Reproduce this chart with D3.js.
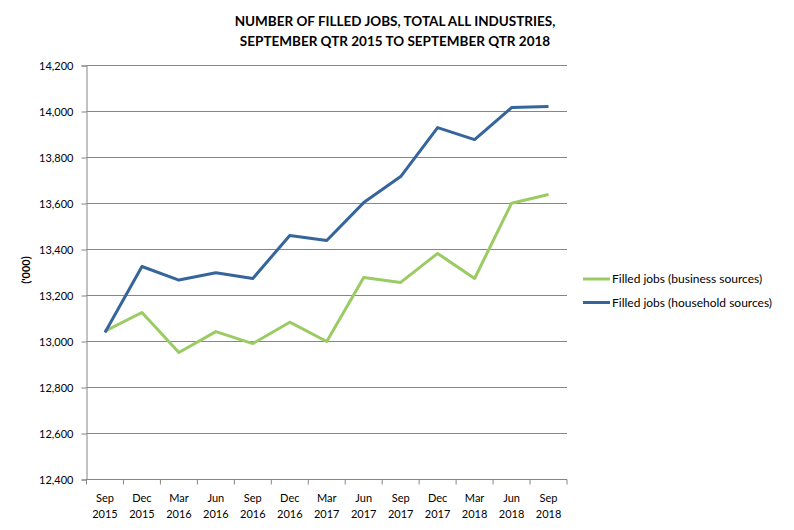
<!DOCTYPE html>
<html>
<head>
<meta charset="utf-8">
<script src="https://cdn.jsdelivr.net/npm/d3@7"></script>
<style>
  body { margin: 0; background: #fff; }
  text { font-family: Lato, 'Open Sans', sans-serif; fill: #000; }
</style>
</head>
<body>
<div class="container"></div>
<script>
const quarters = ['Sep 2015', 'Dec 2015', 'Mar 2016', 'Jun 2016', 'Sep 2016', 'Dec 2016', 'Mar 2017',
  'Jun 2017', 'Sep 2017', 'Dec 2017', 'Mar 2018', 'Jun 2018', 'Sep 2018'];
const businessJobs = [13045, 13126, 12952, 13043, 12991, 13084, 13000, 13278, 13257, 13383, 13274, 13601, 13639];
const householdJobs = [13039, 13326, 13267, 13299, 13274, 13461, 13439, 13604, 13717, 13930, 13878, 14017, 14022];
const yTicks = [12400, 12600, 12800, 13000, 13200, 13400, 13600, 13800, 14000, 14200];
const seriesNames = ['Filled jobs (business sources)', 'Filled jobs (household sources)'];

const w = 794;
const h = 530;
const plotLeft = 86.5;
const plotRight = 567;
const plotTop = 65.5;
const plotBottom = 479.5;

const svg = d3.select('.container').append('svg').attr('width', w).attr('height', h);

const titleLines = ['NUMBER OF FILLED JOBS, TOTAL ALL INDUSTRIES,', 'SEPTEMBER QTR 2015 TO SEPTEMBER QTR 2018'];
svg
  .selectAll('.title')
  .data(titleLines)
  .enter()
  .append('text')
  .attr('class', 'title')
  .attr('x', 395)
  .attr('y', (d, i) => 26 + i * 20)
  .attr('text-anchor', 'middle')
  .style('font-size', '13.5px')
  .style('font-weight', 'bold')
  .text((d) => d);

const xScale = d3.scaleBand().domain(quarters).range([plotLeft, plotRight]);
const yScale = d3.scaleLinear().domain([12400, 14200]).range([plotBottom, plotTop]);

// gridlines
svg
  .append('g')
  .selectAll('line')
  .data(yTicks.slice(1))
  .enter()
  .append('line')
  .attr('x1', plotLeft)
  .attr('x2', plotRight)
  .attr('y1', (d) => yScale(d))
  .attr('y2', (d) => yScale(d))
  .attr('stroke', '#868686')
  .attr('stroke-width', 1);

const yAxis = d3.axisLeft(yScale).tickValues(yTicks).tickFormat(d3.format(',')).tickSize(5).tickPadding(8);
const gy = svg.append('g').attr('transform', `translate(${plotLeft},0)`).call(yAxis);
gy.select('.domain').attr('stroke', '#868686');
gy.selectAll('.tick line').attr('stroke', '#868686');
gy.selectAll('text').style('font-size', '11px').attr('fill', '#000');

// x axis, ticks sit between the categories
const gx = svg.append('g').attr('transform', `translate(0,${plotBottom})`);
gx.append('line').attr('x1', plotLeft).attr('x2', plotRight).attr('stroke', '#868686');
const bounds = quarters.map((q) => xScale(q)).concat([plotRight]);
gx.selectAll('.tk')
  .data(bounds)
  .enter()
  .append('line')
  .attr('x1', (d) => d)
  .attr('x2', (d) => d)
  .attr('y1', 0)
  .attr('y2', 5)
  .attr('stroke', '#868686');
const labels = gx
  .selectAll('.lbl')
  .data(quarters)
  .enter()
  .append('text')
  .attr('text-anchor', 'middle')
  .style('font-size', '11px');
labels.append('tspan').attr('x', (d) => xScale(d) + xScale.bandwidth() / 2).attr('y', 22).text((d) => d.split(' ')[0]);
labels.append('tspan').attr('x', (d) => xScale(d) + xScale.bandwidth() / 2).attr('y', 38).text((d) => d.split(' ')[1]);

svg
  .append('text')
  .attr('transform', 'rotate(-90)')
  .attr('x', -270)
  .attr('y', 30)
  .attr('text-anchor', 'middle')
  .style('font-size', '11px')
  .style('font-weight', 'bold')
  .text("('000)");

const series = [
  { name: seriesNames[0], values: businessJobs, color: '#9BCB63' },
  { name: seriesNames[1], values: householdJobs, color: '#35659A' }
];

const line = d3
  .line()
  .x((d, i) => xScale(quarters[i]) + xScale.bandwidth() / 2)
  .y((d) => yScale(d));

svg
  .selectAll('.series')
  .data(series)
  .enter()
  .append('path')
  .attr('d', (d) => line(d.values))
  .attr('fill', 'none')
  .attr('stroke', (d) => d.color)
  .attr('stroke-width', 3)
  .attr('stroke-linejoin', 'round');

const legend = svg
  .selectAll('.legend')
  .data(series)
  .enter()
  .append('g')
  .attr('transform', (d, i) => `translate(583,${279 + i * 23.5})`);
legend.append('line').attr('x1', 0).attr('x2', 27).attr('stroke', (d) => d.color).attr('stroke-width', 3);
legend
  .append('text')
  .attr('x', 29)
  .attr('y', 4)
  .style('font-size', '12px')
  .text((d) => d.name);
</script>
</body>
</html>
